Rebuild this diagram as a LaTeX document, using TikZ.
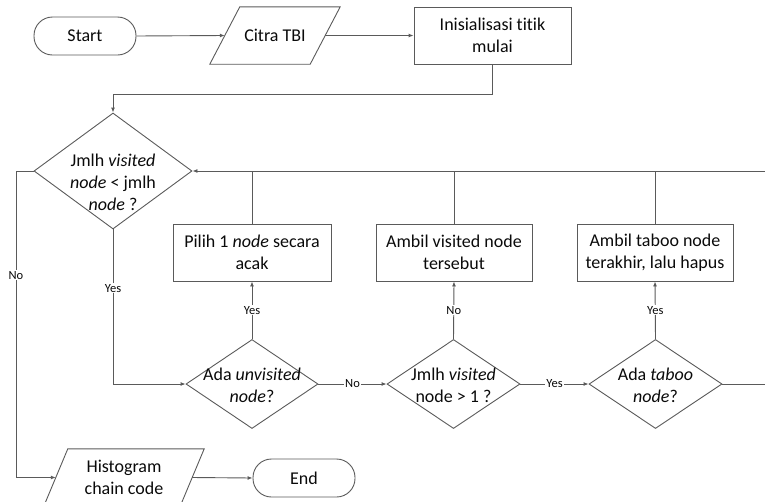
\documentclass[tikz,border=0pt]{standalone}
\usepackage{fontspec}
\setmainfont{Carlito}[Ligatures=NoCommon]
\usetikzlibrary{arrows.meta,shapes.geometric}
\definecolor{lc}{RGB}{90,90,90}
\definecolor{tc}{RGB}{10,10,10}
\begin{document}
\begin{tikzpicture}[x=1pt,y=-1pt,
  line/.style={draw=lc, line width=0.9pt},
  arr/.style={line, -{Latex[length=5pt,width=4pt]}},
  txt/.style={align=center, text=tc, font=\fontsize{18}{22}\selectfont, inner sep=0pt},
  box/.style={txt, draw=lc, line width=0.9pt, rectangle, minimum height=57pt},
  term/.style={txt, draw=lc, line width=0.9pt, rectangle, rounded corners=18.5pt, minimum width=102pt, minimum height=38pt},
  iobox/.style={txt, rectangle, minimum height=57pt},
  dia/.style={draw=lc, line width=0.9pt, diamond, inner sep=0pt},
  lab/.style={fill=white, inner sep=1pt, text=tc, font=\fontsize{12.5}{14}\selectfont}
]
\useasboundingbox (0,0) rectangle (765,501);
\clip (0,0) rectangle (765,501);

% nodes
\node[term] (start) at (85,36) {Start};
\node[iobox, minimum width=100pt] (citra) at (275,35.5) {Citra TBI};
\draw[line] ([xshift=15pt]citra.north west) -- ([xshift=15pt]citra.north east)
  -- ([xshift=-15pt]citra.south east) -- ([xshift=-15pt]citra.south west) -- cycle;
\node[box, minimum width=157pt] (init) at (492.5,35.5) {Inisialisasi titik\\mulai};

\node[dia, minimum width=158pt, minimum height=116pt] (d1) at (113,171) {};
\node[txt] (d1t) at (113,182) {Jmlh \textit{visited}\\\textit{node} < jmlh\\\textit{node} ?};

\node[box, minimum width=158pt] (pilih) at (252,252.5) {Pilih 1 \textit{node} secara\\acak};
\node[box, minimum width=156pt] (ambv) at (454,252.5) {Ambil visited node\\tersebut};
\node[box, minimum width=156pt] (ambt) at (655,252.5) {Ambil taboo node\\terakhir, lalu hapus};

\node[dia, minimum width=132pt, minimum height=89pt] (d2) at (252,384) {};
\node[txt] (d2t) at (252,385) {Ada \textit{unvisited}\\\textit{node}?};
\node[dia, minimum width=133pt, minimum height=89pt] (d3) at (453.5,384) {};
\node[txt] (d3t) at (453.5,385) {Jmlh \textit{visited}\\node > 1 ?};
\node[dia, minimum width=133pt, minimum height=89pt] (d4) at (655.5,384) {};
\node[txt] (d4t) at (655.5,385) {Ada \textit{taboo}\\\textit{node}?};

\node[iobox, minimum width=136pt] (hist) at (124,477.5) {Histogram\\chain code};
\draw[line] ([xshift=12pt]hist.north west) -- ([xshift=12pt]hist.north east)
  -- ([xshift=-12pt]hist.south east) -- ([xshift=-12pt]hist.south west) -- cycle;
\node[term] (end) at (304,478) {End};

% helper coordinates
\coordinate (k1) at (113,94);
\coordinate (k2) at (16,171);
\coordinate (k3) at (775,384);
\coordinate (k4) at (775,171);

% connectors
\draw[arr] (start.east) -- (citra.west);
\draw[arr] (citra.east) -- (init.west);
\draw[arr] (init.south) |- (k1) -- (d1.north);
\draw[arr] (d1.south) |- node[lab, pos=0.19] {Yes} (d2.west);
\draw[line] (d1.west) -- (k2);
\draw[arr] (k2) |- node[lab, pos=0.17] {No} (hist.west);
\draw[arr] (d2.north) -- node[lab] {Yes} (pilih.south);
\draw[arr] (d3.north) -- node[lab] {No} (ambv.south);
\draw[arr] (d4.north) -- node[lab] {Yes} (ambt.south);
\draw[arr] (d2.east) -- node[lab] {No} (d3.west);
\draw[arr] (d3.east) -- node[lab] {Yes} (d4.west);
\draw[arr] (d4.east) -- (k3) -- (k4) -- (d1.east);
\draw[line] (pilih.north) -- (pilih.north |- k4);
\draw[line] (ambv.north) -- (ambv.north |- k4);
\draw[line] (ambt.north) -- (ambt.north |- k4);
\draw[arr] (hist.east) -- (end.west);
\end{tikzpicture}
\end{document}
